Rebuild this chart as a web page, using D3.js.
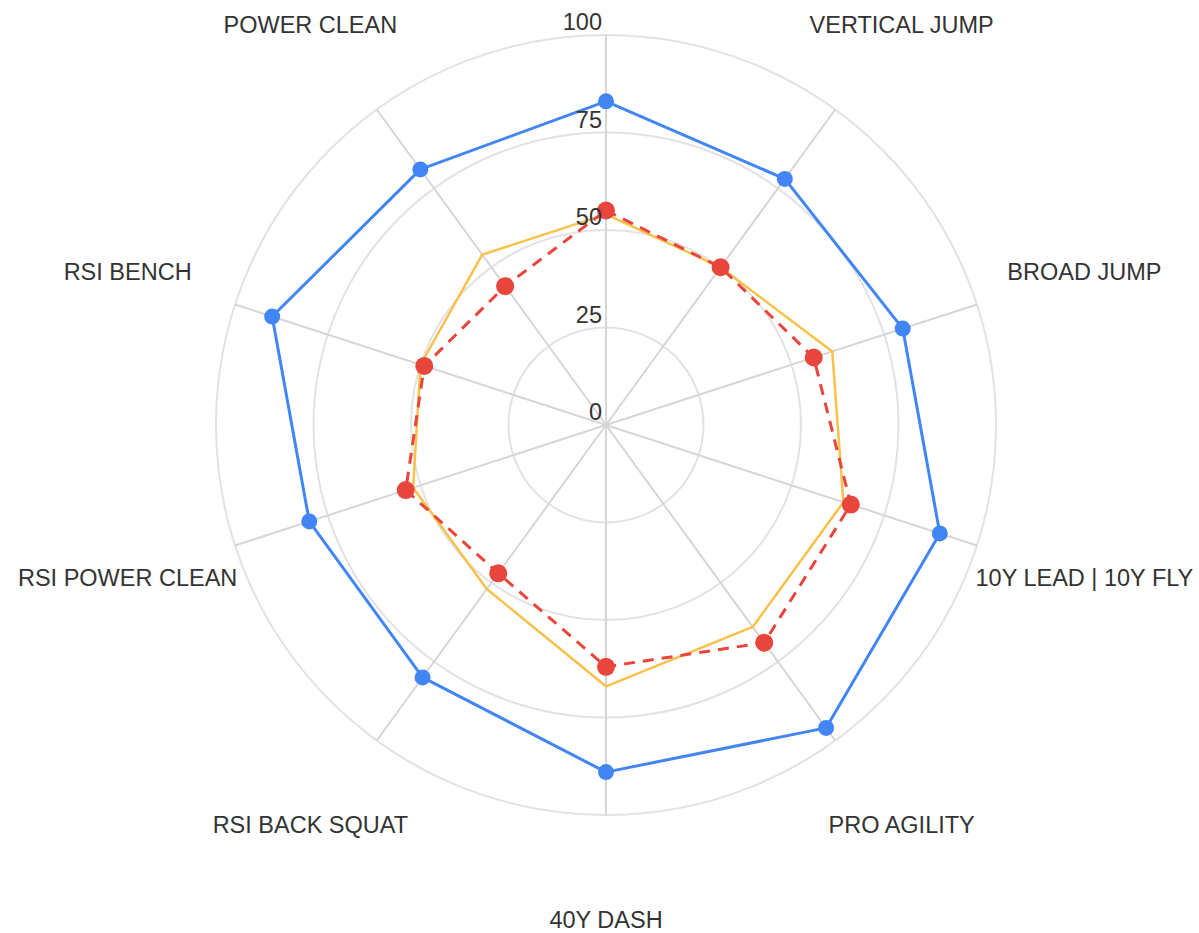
<!DOCTYPE html>
<html>
<head>
<meta charset="utf-8">
<script src="https://cdn.jsdelivr.net/npm/d3@7"></script>
<style>
  html, body { margin: 0; padding: 0; background: #fff; }
  svg { display: block; }
  text { font-family: "Liberation Sans", Arial, sans-serif; }
</style>
</head>
<body>
<svg id="chart" width="1199" height="933"></svg>
<script>
// Radar chart: athlete test scores by category
const categories = ["", "VERTICAL JUMP", "BROAD JUMP", "10Y LEAD | 10Y FLY", "PRO AGILITY",
                    "40Y DASH", "RSI BACK SQUAT", "RSI POWER CLEAN", "RSI BENCH", "POWER CLEAN"];
const tickValues = [0, 25, 50, 75, 100];
const blueSeries   = [83, 78, 80, 90, 96, 89, 80, 80, 90, 81];
const redSeries    = [55, 50, 56, 66, 69, 62, 47, 54, 49, 44];
const yellowSeries = [54, 50, 61, 64, 64, 67, 52, 52, 50, 54];

const svg = d3.select("#chart");
const cx = 606, cy = 425, R = 390;

const r = d3.scaleLinear().domain([0, 100]).range([0, R]);
const angle = d3.scaleLinear().domain([0, categories.length]).range([0, 2 * Math.PI]);

const g = svg.append("g").attr("transform", `translate(${cx},${cy})`);

// concentric rings
g.selectAll("circle.ring")
  .data(tickValues.filter(v => v > 0))
  .join("circle")
  .attr("class", "ring")
  .attr("r", d => r(d))
  .attr("fill", "none")
  .attr("stroke", "#e2e2e2")
  .attr("stroke-width", 2);

// spokes
g.selectAll("line.spoke")
  .data(categories.map((c, i) => i))
  .join("line")
  .attr("class", "spoke")
  .attr("x1", 0).attr("y1", 0)
  .attr("x2", i => r(100) * Math.sin(angle(i)))
  .attr("y2", i => -r(100) * Math.cos(angle(i)))
  .attr("stroke", "#d6d6d6")
  .attr("stroke-width", 2);

// category labels
const lrx = 503, lry = 495;
g.selectAll("text.cat")
  .data(categories)
  .join("text")
  .attr("class", "cat")
  .attr("x", (d, i) => lrx * Math.sin(angle(i)))
  .attr("y", (d, i) => -lry * Math.cos(angle(i)))
  .attr("text-anchor", "middle")
  .attr("dominant-baseline", "central")
  .attr("font-size", 23.5)
  .attr("fill", "#333")
  .text(d => d);

const pt = (v, i) => [r(v) * Math.sin(angle(i)), -r(v) * Math.cos(angle(i))];
const radial = d3.line().curve(d3.curveLinearClosed);

function drawSeries(values, color, width, dash, dotR) {
  const pts = values.map((v, i) => pt(v, i));
  g.append("path")
    .attr("d", radial(pts))
    .attr("fill", "none")
    .attr("stroke", color)
    .attr("stroke-width", width)
    .attr("stroke-dasharray", dash)
    .attr("stroke-linejoin", "round");
  if (dotR > 0) {
    g.append("g").selectAll("circle")
      .data(pts)
      .join("circle")
      .attr("cx", d => d[0])
      .attr("cy", d => d[1])
      .attr("r", dotR)
      .attr("fill", color);
  }
}

drawSeries(yellowSeries, "#f9c04a", 2.5, null, 0);
drawSeries(redSeries, "#e8453c", 3, "11,8", 9);
drawSeries(blueSeries, "#4285f4", 3, null, 8);

// radial tick labels along the top spoke
g.selectAll("text.tick")
  .data(tickValues)
  .join("text")
  .attr("class", "tick")
  .attr("x", -4)
  .attr("y", d => -r(d) - 13)
  .attr("text-anchor", "end")
  .attr("dominant-baseline", "central")
  .attr("font-size", 23.5)
  .attr("fill", "#333")
  .text(d => d);
</script>
</body>
</html>
